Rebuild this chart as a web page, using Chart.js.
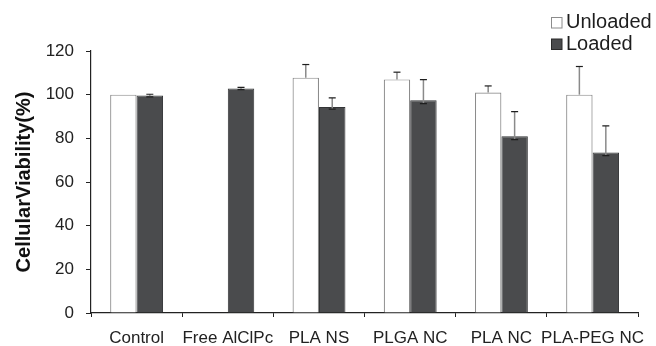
<!DOCTYPE html>
<html>
<head>
<meta charset="utf-8">
<script src="https://cdn.jsdelivr.net/npm/chart.js@4/dist/chart.umd.min.js"></script>
<style>
  html, body { margin: 0; padding: 0; background: #fff; }
  #wrap { width: 656px; height: 346px; position: relative; }
</style>
</head>
<body>
<div id="wrap"><canvas id="viabilityChart"></canvas></div>
<script>
// Chart data
const categories = ['Control', 'Free AlClPc', 'PLA NS', 'PLGA NC', 'PLA NC', 'PLA-PEG NC'];
const unloadedValues = [100, null, 107.8, 107.0, 101.0, 100.0];
const loadedValues = [99.6, 102.8, 94.4, 97.4, 80.9, 73.5];
const unloadedErrUp = [0, 0, 6.0, 3.3, 3.0, 12.9];
const unloadedErrDown = [0, 0, 0, 0, 0, 0];
const loadedErrUp = [0.6, 0.5, 4.1, 9.5, 11.3, 12.2];
const loadedErrDown = [0.6, 0.5, 1.0, 1.5, 1.5, 1.4];
const yTicks = [0, 20, 40, 60, 80, 100, 120];

const fontFamily = '"Liberation Sans", Arial, sans-serif';

// Draws error bars: gray stem with dark caps
const errorBarPlugin = {
    id: 'errorBars',
    afterDatasetsDraw(chart) {
        const ctx = chart.ctx;
        const yScale = chart.scales.y;
        chart.data.datasets.forEach((ds, i) => {
            const meta = chart.getDatasetMeta(i);
            meta.data.forEach((bar, j) => {
                const v = ds.data[j];
                if (v === null || v === undefined) return;
                const up = ds.errUp[j] || 0;
                const down = ds.errDown[j] || 0;
                if (!up && !down) return;
                const x = bar.x;
                const yTop = yScale.getPixelForValue(v + up);
                const yBot = yScale.getPixelForValue(v - down);
                ctx.save();
                ctx.strokeStyle = '#8a8a8a';
                ctx.lineWidth = 1.5;
                ctx.beginPath();
                ctx.moveTo(x, yTop);
                ctx.lineTo(x, yBot);
                ctx.stroke();
                ctx.strokeStyle = '#1e1e1e';
                ctx.lineWidth = 1.2;
                ctx.beginPath();
                ctx.moveTo(x - 3.5, yTop);
                ctx.lineTo(x + 3.5, yTop);
                if (down) {
                    ctx.moveTo(x - 3.5, yBot);
                    ctx.lineTo(x + 3.5, yBot);
                }
                ctx.stroke();
                ctx.restore();
            });
        });
    }
};

// Vertical legend in the top right corner
const cornerLegendPlugin = {
    id: 'cornerLegend',
    afterDraw(chart) {
        const ctx = chart.ctx;
        ctx.save();
        ctx.font = '20px ' + fontFamily;
        ctx.textBaseline = 'middle';
        chart.data.datasets.forEach((ds, i) => {
            const y = 17 + i * 21.5;
            ctx.fillStyle = ds.backgroundColor;
            ctx.fillRect(551.5, y + 0.5, 10.5, 10.5);
            ctx.strokeStyle = ds.legendBorder;
            ctx.lineWidth = 1;
            ctx.strokeRect(551.5, y + 0.5, 10.5, 10.5);
            ctx.fillStyle = '#1e1e1e';
            ctx.fillText(ds.label, 566, y + 5.5);
        });
        ctx.restore();
    }
};

const ctx = document.getElementById('viabilityChart').getContext('2d');
new Chart(ctx, {
    type: 'bar',
    data: {
        labels: categories,
        datasets: [{
            label: 'Unloaded',
            data: unloadedValues,
            errUp: unloadedErrUp,
            errDown: unloadedErrDown,
            backgroundColor: '#ffffff',
            borderColor: '#8c8c8c',
            legendBorder: '#8c8c8c',
            borderWidth: 1.2,
            categoryPercentage: 0.58,
            barPercentage: 1.0
        }, {
            label: 'Loaded',
            data: loadedValues,
            errUp: loadedErrUp,
            errDown: loadedErrDown,
            backgroundColor: '#4a4b4d',
            borderColor: '#333436',
            legendBorder: '#2a2a2a',
            borderWidth: 1,
            categoryPercentage: 0.58,
            barPercentage: 1.0
        }]
    },
    options: {
        responsive: true,
        maintainAspectRatio: false,
        animation: false,
        layout: { padding: { left: 0, right: 11, top: 51, bottom: 0 } },
        plugins: {
            legend: { display: false },
            tooltip: { enabled: false }
        },
        scales: {
            x: {
                grid: {
                    display: true,
                    offset: true,
                    drawOnChartArea: false,
                    drawTicks: true,
                    tickLength: 4,
                    color: '#222'
                },
                border: { display: true, color: '#222', width: 1.2 },
                ticks: {
                    color: '#222',
                    padding: 11,
                    maxRotation: 0,
                    autoSkip: false,
                    font: { family: fontFamily, size: 17 }
                },
                afterFit(scale) { scale.height = 33; }
            },
            y: {
                min: 0,
                max: 120,
                afterBuildTicks(scale) {
                    scale.ticks = yTicks.map(v => ({ value: v }));
                },
                grid: {
                    display: true,
                    drawOnChartArea: false,
                    drawTicks: true,
                    tickLength: 5,
                    color: '#222'
                },
                border: { display: true, color: '#222', width: 1.2 },
                ticks: {
                    color: '#222',
                    padding: 12,
                    font: { family: fontFamily, size: 17 }
                },
                title: {
                    display: true,
                    text: 'CellularViability(%)',
                    color: '#111',
                    padding: { top: 12, bottom: 0 },
                    font: { family: fontFamily, size: 20, weight: 'bold' }
                },
                afterFit(scale) { scale.width = 91; }
            }
        }
    },
    plugins: [errorBarPlugin, cornerLegendPlugin]
});
</script>
</body>
</html>
